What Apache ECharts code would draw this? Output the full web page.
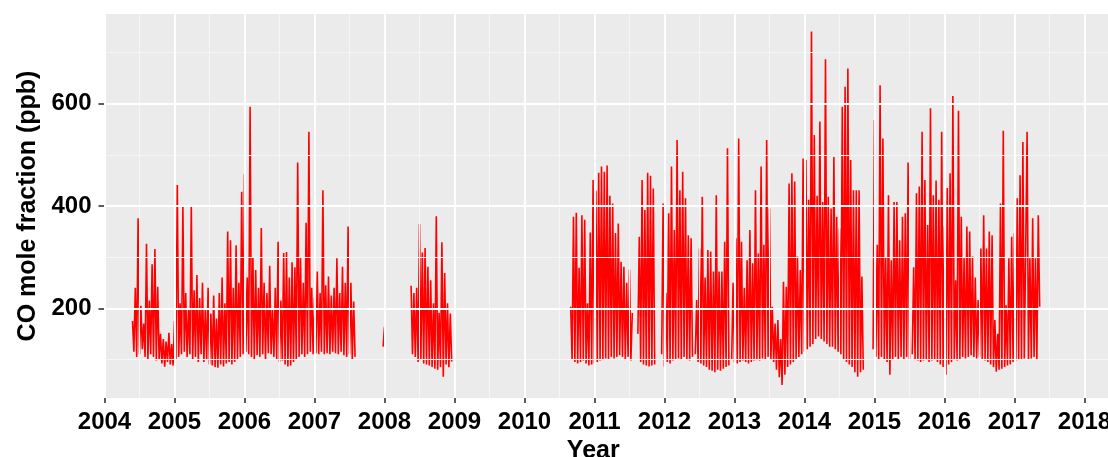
<!DOCTYPE html>
<html><head><meta charset="utf-8">
<script src="https://cdn.jsdelivr.net/npm/echarts@6/dist/echarts.min.js"></script>
<style>html,body{margin:0;padding:0;background:#fff}#c{width:1108px;height:457px}</style>
</head><body><div id="c"></div>
<script>
// Sampling step (years) of the digitised CO record
const step = 0.02;

// Axis tick labels
const yearTicks = [2004,2005,2006,2007,2008,2009,2010,2011,2012,2013,2014,2015,2016,2017,2018];
const valueTicks = [200,400,600];
const minorYears = [2004.5,2005.5,2006.5,2007.5,2008.5,2009.5,2010.5,2011.5,2012.5,2013.5,2014.5,2015.5,2016.5,2017.5];
const minorValues = [100,300,500,700];

// CO mole fraction (ppb), one run per block
const co2004 = [175,115,240,105,376,110,205,120,170,105,
                326,100,215,110,286,105,316,98,242,100,
                150,92,140,86,135,95,152,90,130,88];
const co2005 = [175,100,441,105,210,110,399,115,230,105,
                200,110,399,100,235,105,265,95,220,110,
                250,95,200,100,240,90,190,88,225,85,
                180,84,230,90,260,86,210,92,350,95,
                333,90,240,95,323,100,250,105,428,110];
const co2006 = [462,115,260,110,594,105,300,100,275,108,
                240,105,357,110,250,100,230,112,283,110,
                200,105,240,100,330,95,215,98,308,90,
                310,86,260,88,290,95,280,100,485,105,
                300,110,250,105,367,110,545,115,240,110];
const co2007 = [220,112,272,110,230,115,431,110,245,112,
                262,110,225,115,240,112,298,110,230,115,
                281,108,250,105,360,110,250,100,213,105];
const co2008a = [125,164];
const co2008b = [244,110,230,105,240,95,365,100,309,92,
                 318,90,281,88,255,85,210,82,380,80,
                 191,85,329,66,269,90,210,85,190,96];
const co2010 = [203,100,379,95,387,92,279,95,382,98,373,92,210,88,348,90,451];
const co2011 = [92,430,95,465,98,477,100,467,102,479,
                100,420,105,405,102,347,105,366,108,291,
                105,281,100,250,105,276,98,191,null,null,
                null,150,340,95,451,90,392,88,465,86,
                459,88,434,90,null,null,null,null,110,405];
const co2012 = [86,230,95,386,92,477,98,353,100,529,
                102,431,100,467,105,415,100,343,98,337,
                105,null,110,216,95,317,92,418,88,260,
                85,314,80,311,78,272,75,421,80,272,
                78,272,82,330,85,513,88,null,100,250];
const co2013 = [95,337,92,532,95,330,98,240,95,294,
                92,353,95,288,98,431,100,307,98,477,
                102,324,100,529,105,395,100,203,95,170,
                80,177,65,140,50,252,70,242,85,444,
                90,464,95,448,100,301,105,275,110,493];
const co2014 = [115,490,120,412,125,741,130,539,140,420,
                145,565,140,408,135,687,130,418,125,395,
                125,496,120,379,115,356,110,594,100,633,
                95,669,90,490,85,431,75,431,66,431,
                75,262,80,null,null,null,null,null,null,120];
const co2015 = [568,105,324,100,636,105,532,100,300,95,
                421,70,294,100,408,105,408,100,333,105,
                379,100,386,105,485,100,null,110,280,100,
                425,98,438,95,545,98,451,100,363,95,
                591,98,421,100,450,95,412,90,545,85];
const co2016 = [360,70,435,90,464,95,615,100,255,98,
                586,100,379,105,300,102,360,105,350,108,
                301,105,260,102,216,105,317,100,382,98,
                317,95,350,90,343,85,177,76,150,80,
                405,82,547,85,206,88,298,90,340,95];
const co2017 = [347,98,415,100,460,100,525,102,314,545,
                100,298,102,376,105,298,100,382,203];

const runStarts = [2004.40, 2005.00, 2006.00, 2007.00, 2007.98, 2008.38,
                   2010.66, 2011.00, 2012.00, 2013.00, 2014.00, 2015.00, 2016.00, 2017.00];
const runs = [co2004, co2005, co2006, co2007, co2008a, co2008b,
              co2010, co2011, co2012, co2013, co2014, co2015, co2016, co2017];

const data = [];
let prevEnd = null;
runs.forEach((vals, r) => {
  const s = runStarts[r];
  if (prevEnd !== null && s - prevEnd > step * 1.5) data.push([(s + prevEnd) / 2, null]);
  vals.forEach((v, i) => data.push([+(s + i * step).toFixed(3), v]));
  prevEnd = s + (vals.length - 1) * step;
});

const FONT = '"Liberation Sans", Arial, Helvetica, sans-serif';
const major = {color: '#FFFFFF', width: 1.9, type: 'solid'};
const minor = {color: '#F6F6F6', width: 1, type: 'solid'};
const gridLines = []
  .concat(minorYears.map(v => ({xAxis: v, lineStyle: minor})))
  .concat(minorValues.map(v => ({yAxis: v, lineStyle: minor})))
  .concat(yearTicks.map(v => ({xAxis: v, lineStyle: major})))
  .concat(valueTicks.map(v => ({yAxis: v, lineStyle: major})));

const chart = echarts.init(document.getElementById('c'), null, {renderer: 'canvas'});
chart.setOption({
  animation: false,
  backgroundColor: '#FFFFFF',
  grid: {left: 104.5, right: 0, top: 14, bottom: 59, show: true, backgroundColor: '#EBEBEB', borderWidth: 0,
         containLabel: false, outerBoundsMode: 'none'},
  xAxis: {
    type: 'value', min: 2004, max: 2018.336,
    name: 'Year', nameLocation: 'middle', nameGap: 33,
    nameTextStyle: {fontFamily: FONT, fontWeight: 'bold', fontSize: 25, color: '#000', padding: [0, 26, 0, 0]},
    axisLine: {show: false},
    axisTick: {show: true, length: 5, customValues: yearTicks, lineStyle: {color: '#333', width: 1.6}},
    axisLabel: {customValues: yearTicks, margin: 12, fontFamily: FONT, fontWeight: 'bold', fontSize: 24, color: '#000', formatter: v => String(v)},
    splitLine: {show: false}
  },
  yAxis: {
    type: 'value', min: 24.6, max: 775.4,
    name: 'CO mole fraction (ppb)', nameLocation: 'middle', nameGap: 61, nameRotate: 90,
    nameTextStyle: {fontFamily: FONT, fontWeight: 'bold', fontSize: 25, color: '#000'},
    axisLine: {show: false},
    axisTick: {show: true, length: 6, customValues: valueTicks, lineStyle: {color: '#333', width: 1.6}},
    axisLabel: {customValues: valueTicks, margin: 13, fontFamily: FONT, fontWeight: 'bold', fontSize: 24, color: '#000'},
    splitLine: {show: false}
  },
  series: [
    {
      type: 'line', z: 1, silent: true, data: [[2004, null]], showSymbol: false,
      markLine: {silent: true, symbol: ['none', 'none'], label: {show: false}, animation: false, data: gridLines}
    },
    {
      type: 'line', z: 3, data: data, showSymbol: false, symbol: 'none',
      sampling: null, connectNulls: false,
      lineStyle: {color: '#FF0000', width: 1.6}
    }
  ]
});
</script>
</body></html>
